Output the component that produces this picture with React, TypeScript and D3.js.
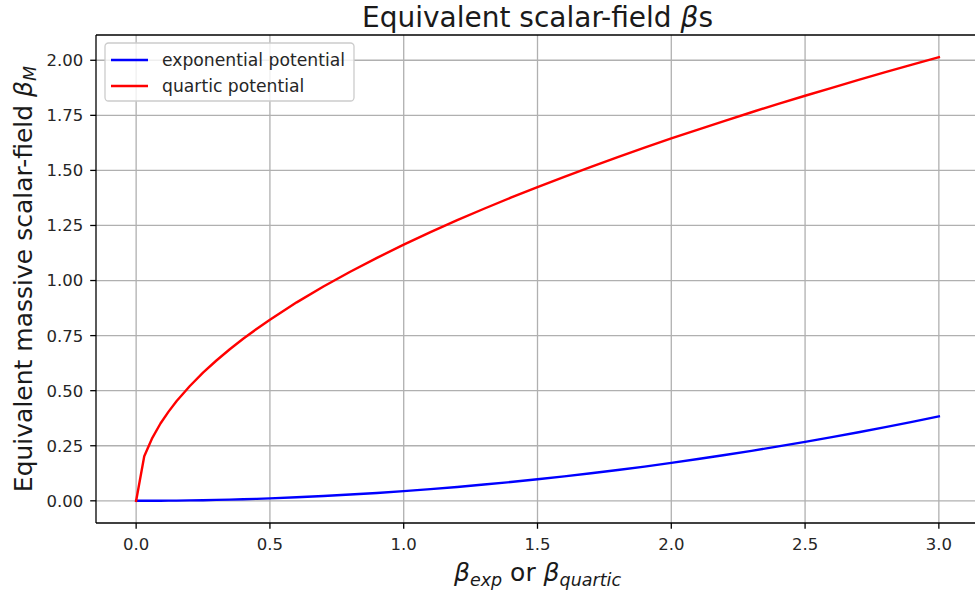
import React from "react";
import * as d3 from "d3";

const xs = [0, 0.0303, 0.0606, 0.0909, 0.1212, 0.1515, 0.2, 0.25, 0.3, 0.35, 0.4, 0.45, 0.5, 0.6, 0.7, 0.8, 0.9, 1.0, 1.1, 1.2, 1.3, 1.4, 1.5, 1.6, 1.7, 1.8, 1.9, 2.0, 2.1, 2.2, 2.3, 2.4, 2.5, 2.6, 2.7, 2.8, 2.9, 3.0];
const quartic = [0, 0.202, 0.286, 0.351, 0.405, 0.453, 0.52, 0.582, 0.637, 0.688, 0.736, 0.78, 0.822, 0.901, 0.973, 1.04, 1.103, 1.163, 1.22, 1.274, 1.326, 1.376, 1.424, 1.471, 1.516, 1.56, 1.603, 1.645, 1.685, 1.725, 1.764, 1.802, 1.839, 1.875, 1.911, 1.946, 1.98, 2.014];
const exponential = [0, 0.00005, 0.00017, 0.00036, 0.00069, 0.001, 0.0018, 0.0029, 0.0041, 0.0056, 0.0072, 0.009, 0.0112, 0.0161, 0.0218, 0.0284, 0.0358, 0.044, 0.0531, 0.063, 0.0738, 0.0853, 0.0977, 0.1109, 0.1249, 0.1397, 0.1552, 0.1724, 0.1898, 0.208, 0.227, 0.2469, 0.2676, 0.289, 0.3114, 0.3344, 0.3584, 0.3831];
const xTicks = [0, 0.5, 1.0, 1.5, 2.0, 2.5, 3.0];
const yTicks = [0, 0.25, 0.5, 0.75, 1.0, 1.25, 1.5, 1.75, 2.0];
const seriesNames = ["exponential potential", "quartic potential"];
const seriesColors = ["#0000ff", "#ff0000"];

const W = 975, H = 597;
const L = 96, T = 35, R = 979, B = 523;
const FONT = "DejaVu Sans, sans-serif";

export default function App() {
  const xMin = d3.min(xs)!, xMax = d3.max(xs)!;
  const yMax = Math.max(d3.max(quartic)!, d3.max(exponential)!);
  const xPad = (xMax - xMin) * 0.05;
  const yPad = yMax * 0.05;
  const x = d3.scaleLinear().domain([xMin - xPad, xMax + xPad]).range([L, R]);
  const y = d3.scaleLinear().domain([-yPad, yMax + yPad]).range([B, T]);
  const line = d3.line<number>().x((_, i) => x(xs[i])).y((d) => y(d));
  const series = [exponential, quartic];
  const tickLen = 5.8;
  const tickFs = 16.5;
  const legendFs = 17.2;

  return (
    <svg width={W} height={H} style={{ position: "absolute", left: 0, top: 0, background: "#fff" }} fontFamily={FONT}>
      <rect x={0} y={0} width={W} height={H} fill="#fff" />
      <defs>
        <clipPath id="plot">
          <rect x={L} y={T} width={R - L} height={B - T} />
        </clipPath>
      </defs>
      {xTicks.map((t) => (
        <line key={"gx" + t} x1={x(t)} x2={x(t)} y1={T} y2={B} stroke="#b0b0b0" strokeWidth={1.3} />
      ))}
      {yTicks.map((t) => (
        <line key={"gy" + t} x1={L} x2={R} y1={y(t)} y2={y(t)} stroke="#b0b0b0" strokeWidth={1.3} />
      ))}
      <g clipPath="url(#plot)">
        {series.map((s, i) => (
          <path key={i} d={line(s)!} fill="none" stroke={seriesColors[i]} strokeWidth={2.4} strokeLinejoin="round" strokeLinecap="square" />
        ))}
      </g>
      <line x1={L} x2={L} y1={T} y2={B} stroke="#000" strokeWidth={1.3} />
      <line x1={L} x2={R} y1={B} y2={B} stroke="#000" strokeWidth={1.3} />
      <line x1={L} x2={R} y1={T} y2={T} stroke="#000" strokeWidth={1.3} />
      <line x1={R} x2={R} y1={T} y2={B} stroke="#000" strokeWidth={1.3} />
      {xTicks.map((t) => (
        <g key={"xt" + t}>
          <line x1={x(t)} x2={x(t)} y1={B} y2={B + tickLen} stroke="#000" strokeWidth={1.3} />
          <text x={x(t)} y={549.5} textAnchor="middle" fontSize={tickFs} fill="#262626">{t.toFixed(1)}</text>
        </g>
      ))}
      {yTicks.map((t) => (
        <g key={"yt" + t}>
          <line x1={L - tickLen} x2={L} y1={y(t)} y2={y(t)} stroke="#000" strokeWidth={1.3} />
          <text x={L - tickLen - 7} y={y(t)} dy="0.36em" textAnchor="end" fontSize={tickFs} fill="#262626">{t.toFixed(2)}</text>
        </g>
      ))}
      <text x={(L + R) / 2} y={27} textAnchor="middle" fontSize={28} fill="#1a1a1a">
        Equivalent scalar-field <tspan fontStyle="italic">β</tspan>s
      </text>
      <text x={(L + R) / 2} y={581} textAnchor="middle" fontSize={25} fill="#1a1a1a">
        <tspan fontStyle="italic">β</tspan>
        <tspan fontStyle="italic" fontSize={17.5} dy={4.5}>exp</tspan>
        <tspan dy={-4.5}> or </tspan>
        <tspan fontStyle="italic">β</tspan>
        <tspan fontStyle="italic" fontSize={17.5} dy={4.5}>quartic</tspan>
      </text>
      <text transform={`translate(31.5,${(T + B) / 2}) rotate(-90)`} textAnchor="middle" fontSize={25} fill="#1a1a1a">
        Equivalent massive scalar-field <tspan fontStyle="italic">β</tspan>
        <tspan fontStyle="italic" fontSize={17.5} dy={4.5}>M</tspan>
      </text>
      <rect x={105} y={43} width={249} height={58} rx={3.5} fill="#fff" fillOpacity={0.8} stroke="#cccccc" strokeWidth={1.3} />
      {seriesNames.map((n, i) => (
        <g key={n}>
          <line x1={111} x2={148} y1={60 + i * 26} y2={60 + i * 26} stroke={seriesColors[i]} strokeWidth={2.4} />
          <text x={162} y={60 + i * 26} dy="0.36em" fontSize={legendFs} fill="#262626">{n}</text>
        </g>
      ))}
    </svg>
  );
}
